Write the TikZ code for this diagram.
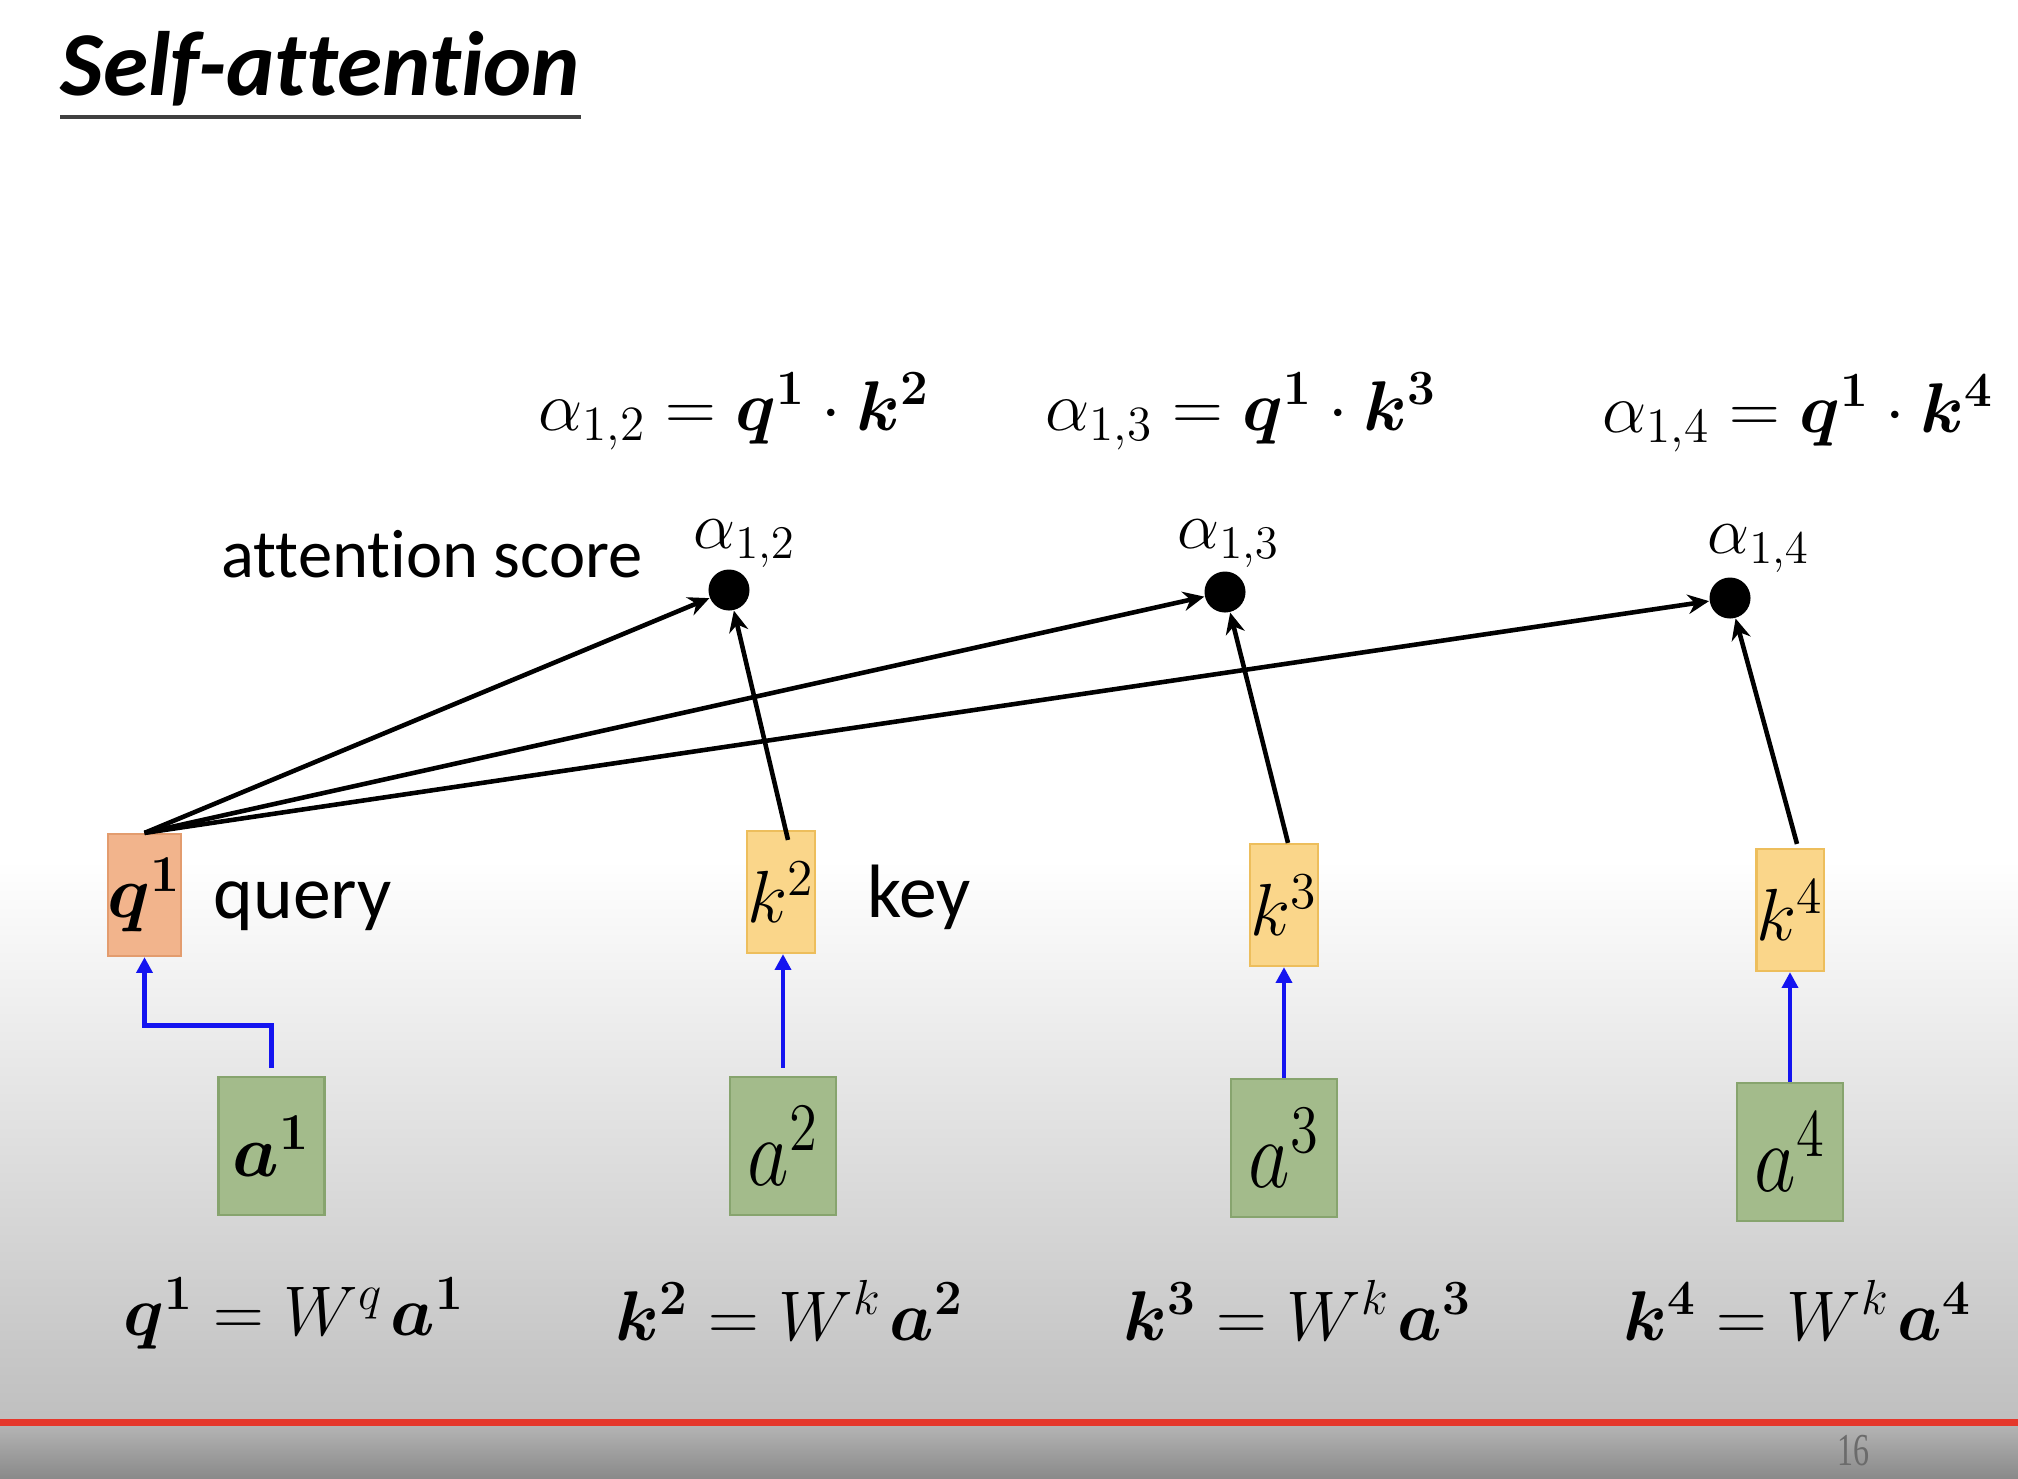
\documentclass[tikz,border=0pt]{standalone}
\usepackage{fix-cm}
\usepackage{amsmath,bm}
\usepackage{graphicx}
\usepackage{fontspec}
\setmainfont{Carlito}[Ligatures=NoCommon]
\newfontfamily\pagenumfont{Liberation Serif}
\usetikzlibrary{arrows.meta,calc}
\definecolor{qfill}{HTML}{F2B48C}
\definecolor{qdraw}{HTML}{E39C6E}
\definecolor{kfill}{HTML}{FAD68A}
\definecolor{kdraw}{HTML}{EDBE5C}
\definecolor{afill}{HTML}{A3BB8B}
\definecolor{adraw}{HTML}{87A46E}
\definecolor{redline}{HTML}{E5372B}
\definecolor{arrblue}{HTML}{1414F0}
\pgfdeclareverticalshading{bgfade}{100bp}{color(0bp)=(black!25); color(25bp)=(black!25); color(75bp)=(white); color(100bp)=(white)}
\pgfdeclareverticalshading{bgfadelow}{100bp}{color(0bp)=(black!46); color(25bp)=(black!46); color(75bp)=(black!28); color(100bp)=(black!28)}
\newcommand{\fsTop}{\fontsize{20pt}{24pt}\selectfont}
\newcommand{\fsLbl}{\fontsize{19pt}{22pt}\selectfont}
\newcommand{\fsBot}{\fontsize{20pt}{24pt}\selectfont}
\newcommand{\fsBox}{\fontsize{21pt}{24pt}\selectfont}
\newcommand{\fsText}{\fontsize{21.5pt}{26pt}\selectfont}
\begin{document}
\begin{tikzpicture}[x=0.01cm,y=-0.01cm,
  qbox/.style={draw=qdraw, fill=qfill, line width=0.6pt, inner sep=0pt, minimum width=0.67cm, minimum height=1.22cm},
  kbox/.style={draw=kdraw, fill=kfill, line width=0.6pt, inner sep=0pt, minimum width=0.66cm, minimum height=1.22cm},
  abox/.style={draw=adraw, fill=afill, line width=0.6pt, inner sep=0pt, minimum width=1.06cm, minimum height=1.38cm},
  scoredot/.style={circle, fill=black, inner sep=0pt, minimum size=0.41cm},
  lbl/.style={inner sep=0pt, anchor=base west},
  scorearrow/.style={-{Stealth[length=6pt,width=5.5pt]}, line width=1.3pt, black},
  projarrow/.style={-{Triangle[length=4.5pt,width=4.5pt]}, line width=1.4pt, arrblue}]
% background
\useasboundingbox (0,0) rectangle (2018,1478);
\fill[white] (0,0) rectangle (2018,1478);
\shade[shading=bgfade] (0,860) rectangle (2018,1421);
\shade[shading=bgfadelow] (0,1421) rectangle (2018,1478);
\fill[redline] (0,1419) rectangle (2018,1426);
\node[inner sep=0pt, text=black!58] (pnum) at (1853,1451) {\pagenumfont\fontsize{13pt}{15pt}\selectfont\scalebox{0.7}[1]{16}};
% title
\node[lbl] (title) at (60,95) {\fontsize{26pt}{30pt}\selectfont\bfseries\itshape Self-attention};
\draw[line width=1pt, black!75] ($(title.base west)+(0,22)$) -- ($(title.base east)+(0,22)$);
% boxes
\node[qbox] (q1) at (144.5,895) {\fsBox$\bm{q}^{\bm{1}}$};
\node[kbox] (k2) at (781,892) {\fsBox$k^{2}$};
\node[kbox] (k3) at (1284,905) {\fsBox$k^{3}$};
\node[kbox] (k4) at (1790,910) {\fsBox$k^{4}$};
\node[abox] (a1) at (271.5,1146) {\fsBox$\bm{a}^{\bm{1}}$};
\node[abox] (a2) at (783,1146) {\fontsize{23pt}{26pt}\selectfont\scalebox{1}[1.2]{$a^{2}$}};
\node[abox] (a3) at (1284,1148) {\fontsize{23pt}{26pt}\selectfont\scalebox{1}[1.2]{$a^{3}$}};
\node[abox] (a4) at (1790,1152) {\fontsize{23pt}{26pt}\selectfont\scalebox{1}[1.2]{$a^{4}$}};
% side labels
\node[lbl] (query) at (213,918) {\fsText query};
\node[lbl] (key) at (867,917) {\fsText key};
\node[lbl] (score) at (221,577) {\fontsize{19.5pt}{24pt}\selectfont attention score};
% dots
\node[scoredot] (d12) at (729,590) {};
\node[scoredot] (d13) at (1225,592) {};
\node[scoredot] (d14) at (1730,598) {};
\node[lbl] (l12) at (693,548) {\fsLbl$\alpha_{1,2}$};
\node[lbl] (l13) at (1177,548) {\fsLbl$\alpha_{1,3}$};
\node[lbl] (l14) at (1707,553) {\fsLbl$\alpha_{1,4}$};
% top formulas
\node[lbl] (f12) at (538,430) {\fsTop$\alpha_{1,2} = \bm{q}^{\bm{1}}\cdot\bm{k}^{\bm{2}}$};
\node[lbl] (f13) at (1045,430) {\fsTop$\alpha_{1,3} = \bm{q}^{\bm{1}}\cdot\bm{k}^{\bm{3}}$};
\node[lbl] (f14) at (1602,432) {\fsTop$\alpha_{1,4} = \bm{q}^{\bm{1}}\cdot\bm{k}^{\bm{4}}$};
% bottom formulas
\node[lbl] (e1) at (123,1335) {\fsBot$\bm{q}^{\bm{1}} = W^{q}\mkern2mu\bm{a}^{\bm{1}}$};
\node[lbl] (e2) at (615,1340) {\fsBot$\bm{k}^{\bm{2}} = W^{k}\mkern2mu\bm{a}^{\bm{2}}$};
\node[lbl] (e3) at (1123,1340) {\fsBot$\bm{k}^{\bm{3}} = W^{k}\mkern2mu\bm{a}^{\bm{3}}$};
\node[lbl] (e4) at (1623,1340) {\fsBot$\bm{k}^{\bm{4}} = W^{k}\mkern2mu\bm{a}^{\bm{4}}$};
% blue projection arrows
\draw[projarrow, shorten <=2.3pt] (a1.north) -- ++(0,-50) -| (q1.south);
\draw[projarrow, shorten <=2.3pt] (a2.north) -- (a2.north |- k2.south);
\draw[projarrow] (a3.north) -- (a3.north |- k3.south);
\draw[projarrow] (a4.north) -- (a4.north |- k4.south);
% score arrows
\draw[scorearrow] (q1.north) -- (d12);
\draw[scorearrow] (q1.north) -- (d13);
\draw[scorearrow] (q1.north) -- (d14);
\draw[scorearrow] ($(k2.north)+(7,10)$) -- (d12);
\draw[scorearrow] ($(k3.north)+(4,0)$) -- (d13);
\draw[scorearrow] ($(k4.north)+(7,-4)$) -- (d14);
\end{tikzpicture}
\end{document}
